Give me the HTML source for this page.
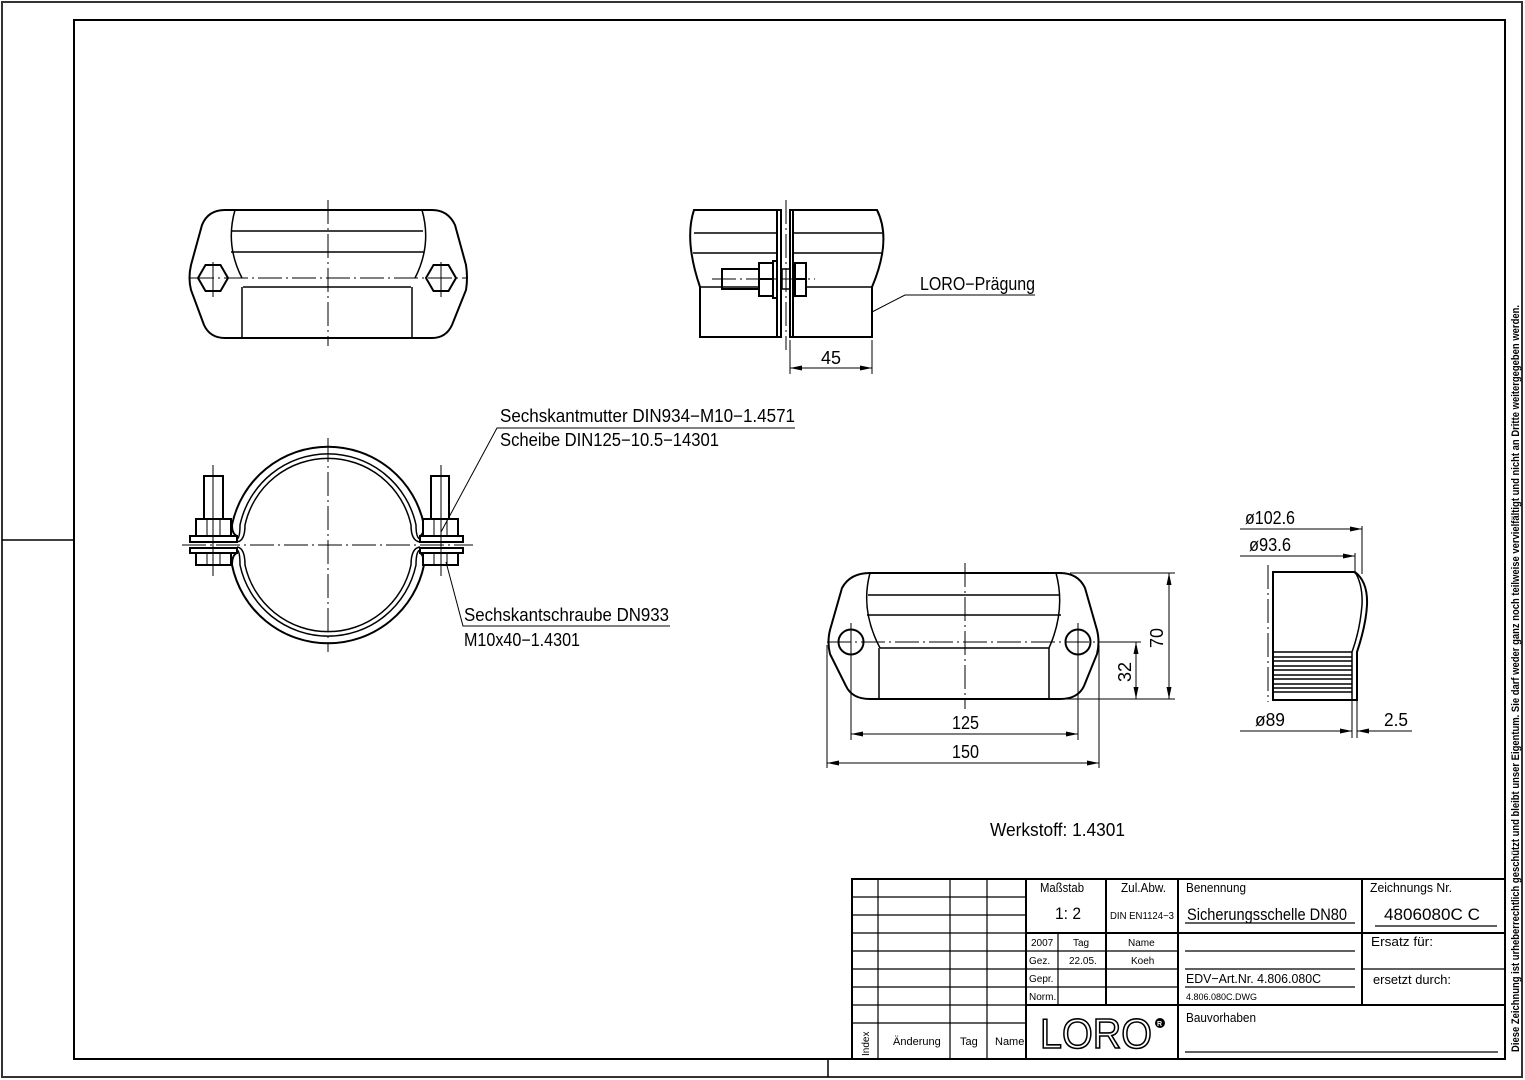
<!DOCTYPE html>
<html><head><meta charset="utf-8"><style>
html,body{margin:0;padding:0;background:#fff;}
svg{display:block;}
text{font-family:"Liberation Sans Narrow","Liberation Sans",sans-serif;fill:#000;}
</style></head><body>
<svg width="1525" height="1080" viewBox="0 0 1525 1080" xmlns="http://www.w3.org/2000/svg">
<g fill="none" stroke="#000">
<rect x="2" y="2" width="1520" height="1075" stroke="#333" stroke-width="2"/>
<rect x="74" y="20" width="1431" height="1039" stroke-width="2"/>
<line x1="2" y1="540" x2="74" y2="540" stroke-width="1.5"/>
<line x1="828" y1="1059" x2="828" y2="1077" stroke-width="1.5"/>

<!-- top-left view -->
<g stroke-width="2">
<path d="M225,210 H432 Q448,210 455,225 L466,265 Q468,278 466,290 L452,325 Q446,338 432,338 H225 Q210,338 204,325 L191,290 Q188,278 191,265 L202,225 Q208,210 225,210Z"/>
<polygon points="198,278 205.5,265 220.5,265 228,278 220.5,291 205.5,291"/>
<polygon points="426,278 433.5,265 448.5,265 456,278 448.5,291 433.5,291"/>
</g>
<g stroke-width="1.5">
<path d="M235,210 Q225,245 242,278"/>
<path d="M422,210 Q432,245 415,278"/>
<line x1="232" y1="231" x2="423" y2="231"/>
<line x1="231" y1="252" x2="424" y2="252"/>
<line x1="243" y1="287" x2="411" y2="287"/>
<line x1="242" y1="287" x2="242" y2="337"/>
<line x1="412" y1="287" x2="412" y2="337"/>
</g>
<g stroke-width="1" stroke-dasharray="24,4,2,4">
<line x1="190" y1="278" x2="466" y2="278"/>
<line x1="328" y1="200" x2="328" y2="346"/>
</g>
<g stroke-width="1"><line x1="213" y1="262" x2="213" y2="297"/><line x1="441" y1="262" x2="441" y2="297"/></g>

<!-- top-middle view -->
<g stroke-width="2">
<path d="M777,210 H694 Q684,240 700,287 V337 H777 Z"/>
<path d="M793,210 H877 Q892,240 872,287 V337 H793 Z"/>
<rect x="777" y="210" width="4" height="127"/>
<rect x="790" y="210" width="3" height="127"/>
<rect x="759" y="263" width="14" height="33"/>
<line x1="759" y1="279" x2="773" y2="279"/>
<rect x="773" y="261" width="4" height="37"/>
<rect x="722" y="269" width="37" height="20"/>
<rect x="795" y="263" width="11" height="33"/>
<line x1="795" y1="279" x2="806" y2="279"/>
<rect x="782" y="269" width="8" height="20" stroke-width="1.5"/>
</g>
<g stroke-width="1.5">
<line x1="694" y1="233" x2="777" y2="233"/><line x1="793" y1="233" x2="882" y2="233"/>
<line x1="693" y1="253" x2="777" y2="253"/><line x1="793" y1="253" x2="882" y2="253"/>
<line x1="700" y1="287" x2="759" y2="287"/><line x1="806" y1="287" x2="872" y2="287"/>
</g>
<g stroke-width="1" stroke-dasharray="24,4,2,4">
<line x1="786" y1="200" x2="786" y2="350"/>
<line x1="712" y1="279" x2="815" y2="279"/>
</g>
<g stroke-width="1">
<line x1="790" y1="340" x2="790" y2="374"/><line x1="872" y1="340" x2="872" y2="374"/>
<line x1="790" y1="368" x2="872" y2="368"/>
<polyline points="872,312 905,295 1035,295"/>
</g>
<g fill="#000" stroke="none">
<polygon points="790,368 802,365.5 802,370.5"/><polygon points="872,368 860,365.5 860,370.5"/>
</g>

<!-- clamp view -->
<g stroke-width="2">
<path d="M237,536 Q232,534 232,525 A98,98 0 0 1 424,525 Q424,534 420,536"/>
<path d="M237,553 Q232,555 232,565 A98,98 0 0 0 424,565 Q424,555 420,553"/>
</g>
<g stroke-width="1.5">
<path d="M237,539 Q240,538 240,525 A90,90 0 0 1 416,525 Q416,538 420,539"/>
<path d="M237,542 Q245,541 245,525 A85,85 0 0 1 411,525 Q411,541 420,542"/>
<path d="M237,550 Q240,551 240,565 A90,90 0 0 0 416,565 Q416,551 420,550"/>
<path d="M237,547 Q245,548 245,565 A85,85 0 0 0 411,565 Q411,548 420,547"/>
</g>
<g stroke-width="2" fill="#fff">
<rect x="190" y="536" width="47" height="6"/><rect x="190" y="548" width="47" height="5"/>
<rect x="420" y="536" width="43" height="6"/><rect x="420" y="548" width="43" height="5"/>
<rect x="196" y="519" width="35" height="17"/><rect x="196" y="553" width="35" height="12"/>
<rect x="423" y="519" width="35" height="17"/><rect x="423" y="553" width="35" height="12"/>
<rect x="204" y="476" width="19" height="43"/><rect x="431" y="476" width="18" height="43"/>
</g>
<g stroke-width="1">
<line x1="207" y1="519" x2="207" y2="536"/><line x1="220" y1="519" x2="220" y2="536"/>
<line x1="434" y1="519" x2="434" y2="536"/><line x1="447" y1="519" x2="447" y2="536"/>
<line x1="207" y1="553" x2="207" y2="565"/><line x1="220" y1="553" x2="220" y2="565"/>
<line x1="434" y1="553" x2="434" y2="565"/><line x1="447" y1="553" x2="447" y2="565"/>
<line x1="213" y1="465" x2="213" y2="576"/><line x1="441" y1="465" x2="441" y2="576"/>
<polyline points="441,532 497,428 795,428"/>
<polyline points="446,562 463,626 670,626"/>
</g>
<g stroke-width="1" stroke-dasharray="24,4,2,4">
<line x1="182" y1="545" x2="473" y2="545"/>
<line x1="328" y1="438" x2="328" y2="652"/>
</g>

<!-- bottom middle view -->
<g stroke-width="2">
<path d="M870,573 H1060 Q1078,573 1085,588 L1097,630 Q1100,642 1097,654 L1084,686 Q1078,699 1060,699 H870 Q852,699 846,686 L830,654 Q827,642 830,630 L842,588 Q850,573 870,573Z"/>
<circle cx="851" cy="642" r="12.5"/><circle cx="1078" cy="642" r="12.5"/>
</g>
<g stroke-width="1.5">
<path d="M870,573 Q860,610 880,648"/>
<path d="M1056,573 Q1066,610 1049,648"/>
<line x1="868" y1="595" x2="1060" y2="595"/>
<line x1="867" y1="615" x2="1061" y2="615"/>
<line x1="880" y1="648" x2="1049" y2="648"/>
<line x1="879" y1="648" x2="879" y2="699"/><line x1="1049" y1="648" x2="1049" y2="699"/>
</g>
<g stroke-width="1" stroke-dasharray="24,4,2,4">
<line x1="827" y1="642" x2="1100" y2="642"/>
<line x1="965" y1="563" x2="965" y2="709"/>
</g>
<g stroke-width="1">
<line x1="851" y1="623" x2="851" y2="740"/><line x1="1078" y1="623" x2="1078" y2="740"/>
<line x1="827" y1="645" x2="827" y2="768"/><line x1="1099" y1="645" x2="1099" y2="768"/>
<line x1="851" y1="734" x2="1078" y2="734"/>
<line x1="827" y1="763" x2="1099" y2="763"/>
<line x1="1070" y1="573" x2="1175" y2="573"/><line x1="1060" y1="699" x2="1175" y2="699"/>
<line x1="1100" y1="642" x2="1141" y2="642"/>
<line x1="1169" y1="573" x2="1169" y2="699"/>
<line x1="1136" y1="642" x2="1136" y2="699"/>
</g>
<g fill="#000" stroke="none">
<polygon points="851,734 863,731.5 863,736.5"/><polygon points="1078,734 1066,731.5 1066,736.5"/>
<polygon points="827,763 839,760.5 839,765.5"/><polygon points="1099,763 1087,760.5 1087,765.5"/>
<polygon points="1169,573 1166.5,585 1171.5,585"/><polygon points="1169,699 1166.5,687 1171.5,687"/>
<polygon points="1136,642 1133.5,654 1138.5,654"/><polygon points="1136,699 1133.5,687 1138.5,687"/>
</g>

<!-- right view -->
<g stroke-width="2">
<path d="M1273,572 H1355 Q1368,582 1367,605 Q1366,625 1357,652 V700 H1273 Z"/>
<path d="M1355,572 Q1363,585 1362,605 Q1360,630 1352,652 V700" stroke-width="1.5"/>
</g>
<g stroke-width="1.5">
<line x1="1273" y1="652" x2="1352" y2="652"/><line x1="1273" y1="657" x2="1352" y2="657"/>
<line x1="1273" y1="661" x2="1352" y2="661"/><line x1="1273" y1="666" x2="1352" y2="666"/>
<line x1="1273" y1="670" x2="1352" y2="670"/><line x1="1273" y1="675" x2="1352" y2="675"/>
<line x1="1273" y1="679" x2="1352" y2="679"/><line x1="1273" y1="684" x2="1352" y2="684"/>
<line x1="1273" y1="688" x2="1352" y2="688"/><line x1="1273" y1="692" x2="1352" y2="692"/>
</g>
<g stroke-width="1" stroke-dasharray="24,4,2,4">
<line x1="1268" y1="565" x2="1268" y2="702"/>
</g>
<g stroke-width="1">
<line x1="1240" y1="529" x2="1362" y2="529"/><line x1="1362" y1="526" x2="1362" y2="574"/>
<line x1="1240" y1="556" x2="1355" y2="556"/><line x1="1355" y1="553" x2="1355" y2="574"/>
<line x1="1352" y1="700" x2="1352" y2="738"/><line x1="1357" y1="700" x2="1357" y2="738"/>
<line x1="1240" y1="731" x2="1352" y2="731"/><line x1="1357" y1="731" x2="1412" y2="731"/>
</g>
<g fill="#000" stroke="none">
<polygon points="1362,529 1350,526.5 1350,531.5"/><polygon points="1355,556 1343,553.5 1343,558.5"/>
<polygon points="1352,731 1340,728.5 1340,733.5"/><polygon points="1357,731 1369,728.5 1369,733.5"/>
</g>

<!-- title block -->
<g stroke-width="2">
<rect x="852" y="879" width="653" height="180"/>
<line x1="1026" y1="879" x2="1026" y2="1059"/>
<line x1="1178" y1="879" x2="1178" y2="1059"/>
<line x1="1362" y1="879" x2="1362" y2="1005"/>
<line x1="1026" y1="933" x2="1505" y2="933"/>
<line x1="1026" y1="1005" x2="1505" y2="1005"/>
<line x1="1106" y1="879" x2="1106" y2="1005"/>
</g>
<g stroke-width="1.2">
<line x1="878" y1="879" x2="878" y2="1059"/>
<line x1="950" y1="879" x2="950" y2="1059"/>
<line x1="987" y1="879" x2="987" y2="1059"/>
<line x1="852" y1="897" x2="1026" y2="897"/>
<line x1="852" y1="915" x2="1026" y2="915"/>
<line x1="852" y1="933" x2="1026" y2="933"/>
<line x1="852" y1="951" x2="1178" y2="951"/>
<line x1="852" y1="969" x2="1178" y2="969"/>
<line x1="852" y1="987" x2="1178" y2="987"/>
<line x1="852" y1="1005" x2="1026" y2="1005"/>
<line x1="852" y1="1023" x2="1026" y2="1023"/>
<line x1="1058" y1="933" x2="1058" y2="1005"/>
<line x1="1362" y1="969" x2="1505" y2="969"/>
<line x1="1185" y1="923" x2="1355" y2="923"/>
<line x1="1375" y1="926" x2="1497" y2="926"/>
<line x1="1185" y1="951" x2="1355" y2="951"/>
<line x1="1185" y1="969" x2="1355" y2="969"/>
<line x1="1185" y1="987" x2="1355" y2="987"/>
<line x1="1185" y1="1052" x2="1498" y2="1052"/>
</g>
</g>

<!-- text -->
<g font-size="18">
<text x="920" y="290" textLength="115" lengthAdjust="spacingAndGlyphs">LORO−Prägung</text>
<text x="821" y="364" textLength="20" lengthAdjust="spacingAndGlyphs">45</text>
<text x="500" y="422" textLength="295" lengthAdjust="spacingAndGlyphs">Sechskantmutter DIN934−M10−1.4571</text>
<text x="500" y="446" textLength="219" lengthAdjust="spacingAndGlyphs">Scheibe DIN125−10.5−14301</text>
<text x="464" y="621" textLength="205" lengthAdjust="spacingAndGlyphs">Sechskantschraube DN933</text>
<text x="464" y="646" textLength="116" lengthAdjust="spacingAndGlyphs">M10x40−1.4301</text>
<text x="952" y="729" textLength="27" lengthAdjust="spacingAndGlyphs">125</text>
<text x="952" y="758" textLength="27" lengthAdjust="spacingAndGlyphs">150</text>
<text transform="translate(1163,648) rotate(-90)" textLength="20" lengthAdjust="spacingAndGlyphs">70</text>
<text transform="translate(1131,682) rotate(-90)" textLength="20" lengthAdjust="spacingAndGlyphs">32</text>
<text x="1245" y="524" textLength="50" lengthAdjust="spacingAndGlyphs">ø102.6</text>
<text x="1249" y="551" textLength="42" lengthAdjust="spacingAndGlyphs">ø93.6</text>
<text x="1255" y="726" textLength="30" lengthAdjust="spacingAndGlyphs">ø89</text>
<text x="1384" y="726" textLength="24" lengthAdjust="spacingAndGlyphs">2.5</text>
<text x="990" y="836" textLength="135" lengthAdjust="spacingAndGlyphs">Werkstoff:  1.4301</text>
</g>
<g font-size="13">
<text x="1040" y="892" textLength="44" lengthAdjust="spacingAndGlyphs">Maßstab</text>
<text x="1121" y="892" textLength="45" lengthAdjust="spacingAndGlyphs">Zul.Abw.</text>
<text x="1186" y="892" textLength="60" lengthAdjust="spacingAndGlyphs">Benennung</text>
<text x="1370" y="892" textLength="82" lengthAdjust="spacingAndGlyphs">Zeichnungs Nr.</text>
<text x="1371" y="946" textLength="62" lengthAdjust="spacingAndGlyphs">Ersatz für:</text>
<text x="1373" y="984" textLength="78" lengthAdjust="spacingAndGlyphs">ersetzt durch:</text>
<text x="1186" y="983" textLength="135" lengthAdjust="spacingAndGlyphs">EDV−Art.Nr.  4.806.080C</text>
<text x="1186" y="1022" textLength="70" lengthAdjust="spacingAndGlyphs">Bauvorhaben</text>
</g>
<g font-size="10">
<text x="1110" y="919" textLength="64" lengthAdjust="spacingAndGlyphs">DIN  EN1124−3</text>
<text x="1031" y="946">2007</text>
<text x="1073" y="946">Tag</text>
<text x="1128" y="946">Name</text>
<text x="1029" y="964">Gez.</text>
<text x="1069" y="964">22.05.</text>
<text x="1131" y="964">Koeh</text>
<text x="1029" y="982">Gepr.</text>
<text x="1029" y="1000">Norm.</text>
<text x="1186" y="1000" font-size="9">4.806.080C.DWG</text>
<text x="893" y="1045" font-size="11">Änderung</text>
<text x="960" y="1045" font-size="11">Tag</text>
<text x="995" y="1045" font-size="11">Name</text>
<text transform="translate(869,1056) rotate(-90)">Index</text>
</g>
<text x="1055" y="919" font-size="17" textLength="26" lengthAdjust="spacingAndGlyphs">1: 2</text>
<text x="1187" y="920" font-size="17" textLength="160" lengthAdjust="spacingAndGlyphs">Sicherungsschelle DN80</text>
<text x="1384" y="920" font-size="17" textLength="96" lengthAdjust="spacingAndGlyphs">4806080C  C</text>
<text x="1040" y="1048" font-size="42" style="fill:#fff;stroke:#000;stroke-width:1.6;font-family:'Liberation Sans',sans-serif;" textLength="112" lengthAdjust="spacingAndGlyphs">LORO</text>
<circle cx="1160" cy="1023" r="5" fill="#000"/>
<text x="1157" y="1026" font-size="7" style="fill:#fff;font-family:'Liberation Sans',sans-serif;font-weight:bold">R</text>
<text transform="translate(1519,1052) rotate(-90)" font-size="11" font-weight="bold" textLength="747" lengthAdjust="spacingAndGlyphs">Diese Zeichnung ist urheberrechtlich geschützt und bleibt unser Eigentum. Sie darf weder ganz noch teilweise vervielfältigt und nicht an Dritte weitergegeben werden.</text>
</svg>
</body></html>
